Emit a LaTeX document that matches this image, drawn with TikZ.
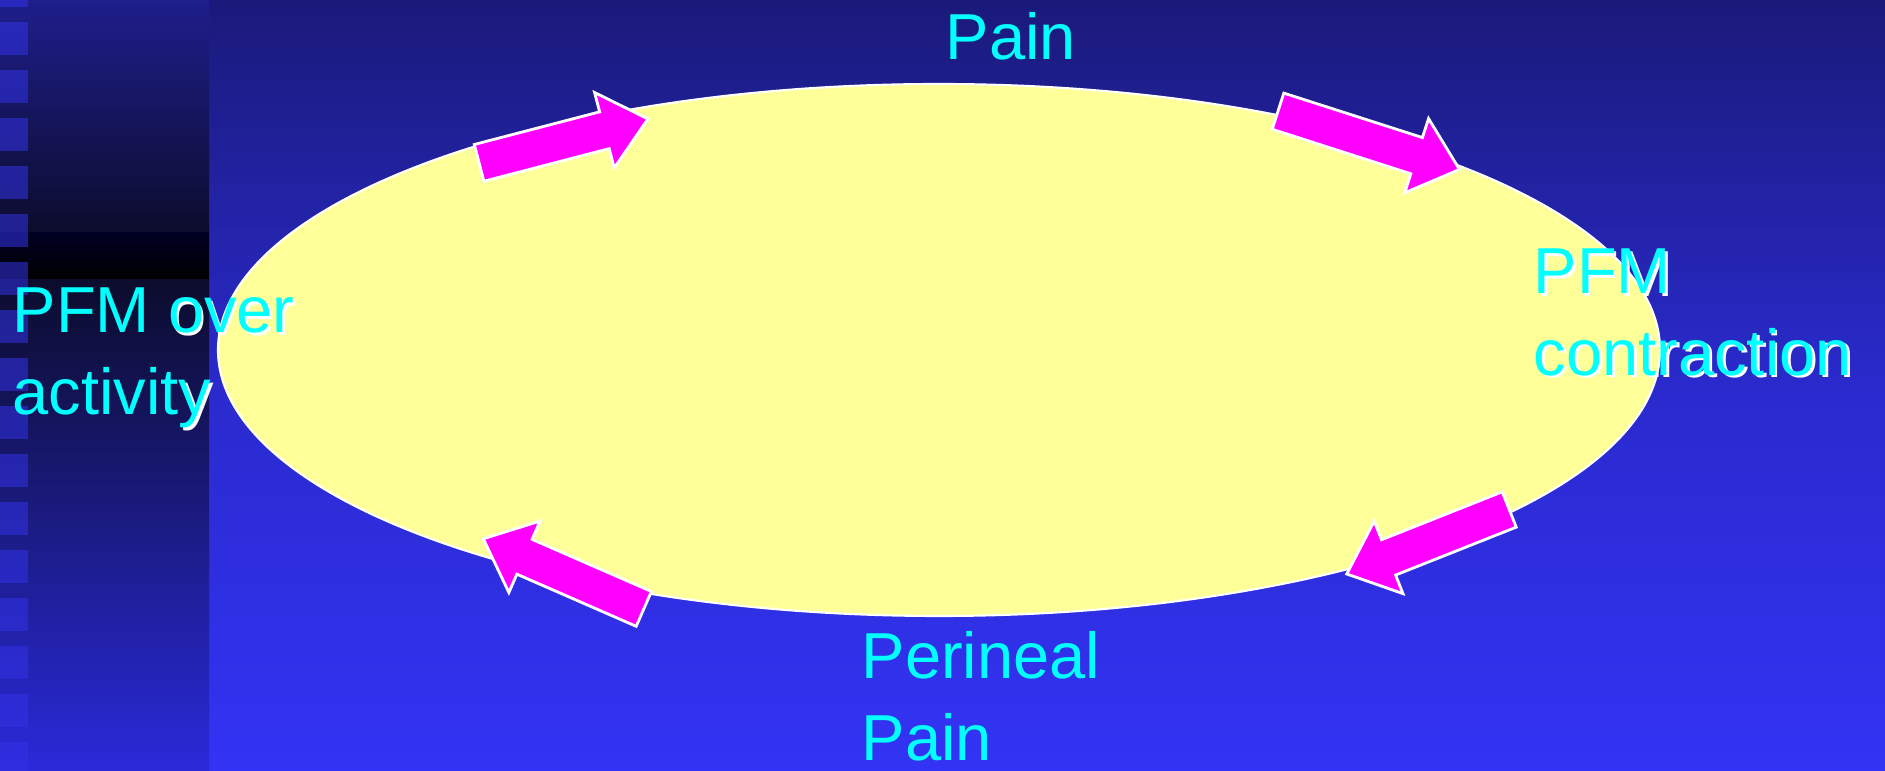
\documentclass[tikz,border=0pt]{standalone}
\usepackage{fontspec}
\setmainfont{Liberation Sans}
\usepackage{tikz}
\usetikzlibrary{shapes.geometric,positioning}
\definecolor{slidetop}{RGB}{26,26,122}
\definecolor{slidemid}{RGB}{42,42,205}
\definecolor{slidebot}{RGB}{51,51,245}
\definecolor{stripetop}{RGB}{30,30,140}
\definecolor{stripedim}{RGB}{12,12,45}
\definecolor{stripeband}{RGB}{0,0,35}
\definecolor{stripebot}{RGB}{42,42,218}
\definecolor{tileblue}{RGB}{50,50,230}
\definecolor{loopyellow}{RGB}{255,255,153}
\definecolor{arrowpink}{RGB}{255,0,255}
\definecolor{labelcyan}{RGB}{0,255,255}
\newcommand{\shadowed}[1]{\rlap{\kern0.8pt\raisebox{-0.8pt}{\textcolor{white}{#1}}}#1}
\tikzset{
  cycleloop/.style={
    ellipse,
    fill=loopyellow,
    draw=white,
    line width=0.6pt,
    inner sep=0pt,
    minimum width=14.42cm,
    minimum height=5.32cm
  },
  cyclelabel/.style={
    text=labelcyan,
    font=\fontsize{18.5}{23.3}\selectfont,
    align=left,
    inner sep=0pt,
    anchor=north west
  },
  blockarrow/.style={fill=arrowpink, draw=white, line width=0.8pt}
}

\begin{document}
\begin{tikzpicture}[x=1cm,y=1cm]
  \useasboundingbox (0,0) rectangle (18.85,7.71);
  % slide background
  \shade[top color=slidetop, bottom color=slidebot, middle color=slidemid]
    (0,0) rectangle (18.85,7.71);
  \shade[top color=stripetop, bottom color=stripedim] (0,5.38) rectangle (2.09,7.71);
  \shade[top color=stripeband, bottom color=black] (0,4.91) rectangle (2.09,5.38);
  \shade[top color=stripedim, bottom color=stripebot] (0,0) rectangle (2.09,4.91);
  \foreach \k in {-1,...,15}
    \fill[tileblue, fill opacity=0.55] (0,7.49-0.48*\k) rectangle (0.28,7.16-0.48*\k);

  \node[cycleloop] (ring) at (9.39,4.21) {};

  % the four block arrows round the ring
  \foreach \x/\y/\ang/\len in {4.791/6.081/14.6/1.745, 12.78/6.598/-17.8/1.906,
      15.092/2.615/201.65/1.748, 6.438/1.621/156.4/1.752}
    \draw[blockarrow, shift={(\x,\y)}, rotate=\ang]
      (0,-0.19) -- (\len-0.45,-0.19) -- (\len-0.45,-0.39) -- (\len,0)
      -- (\len-0.45,0.39) -- (\len-0.45,0.19) -- (0,0.19) -- cycle;

  \node[cyclelabel] (painlabel) at (9.45,7.59) {Pain};
  \node[cyclelabel] (contractlabel) at (15.33,5.232)
    {\shadowed{PFM}\\ \shadowed{contraction}};
  \node[cyclelabel] (perineallabel) at (8.61,1.40) {Perineal\\ Pain};
  \node[cyclelabel] (overlabel) at (0.12,4.837)
    {PFM \shadowed{over}\\ activit\shadowed{y}};
\end{tikzpicture}
\end{document}
